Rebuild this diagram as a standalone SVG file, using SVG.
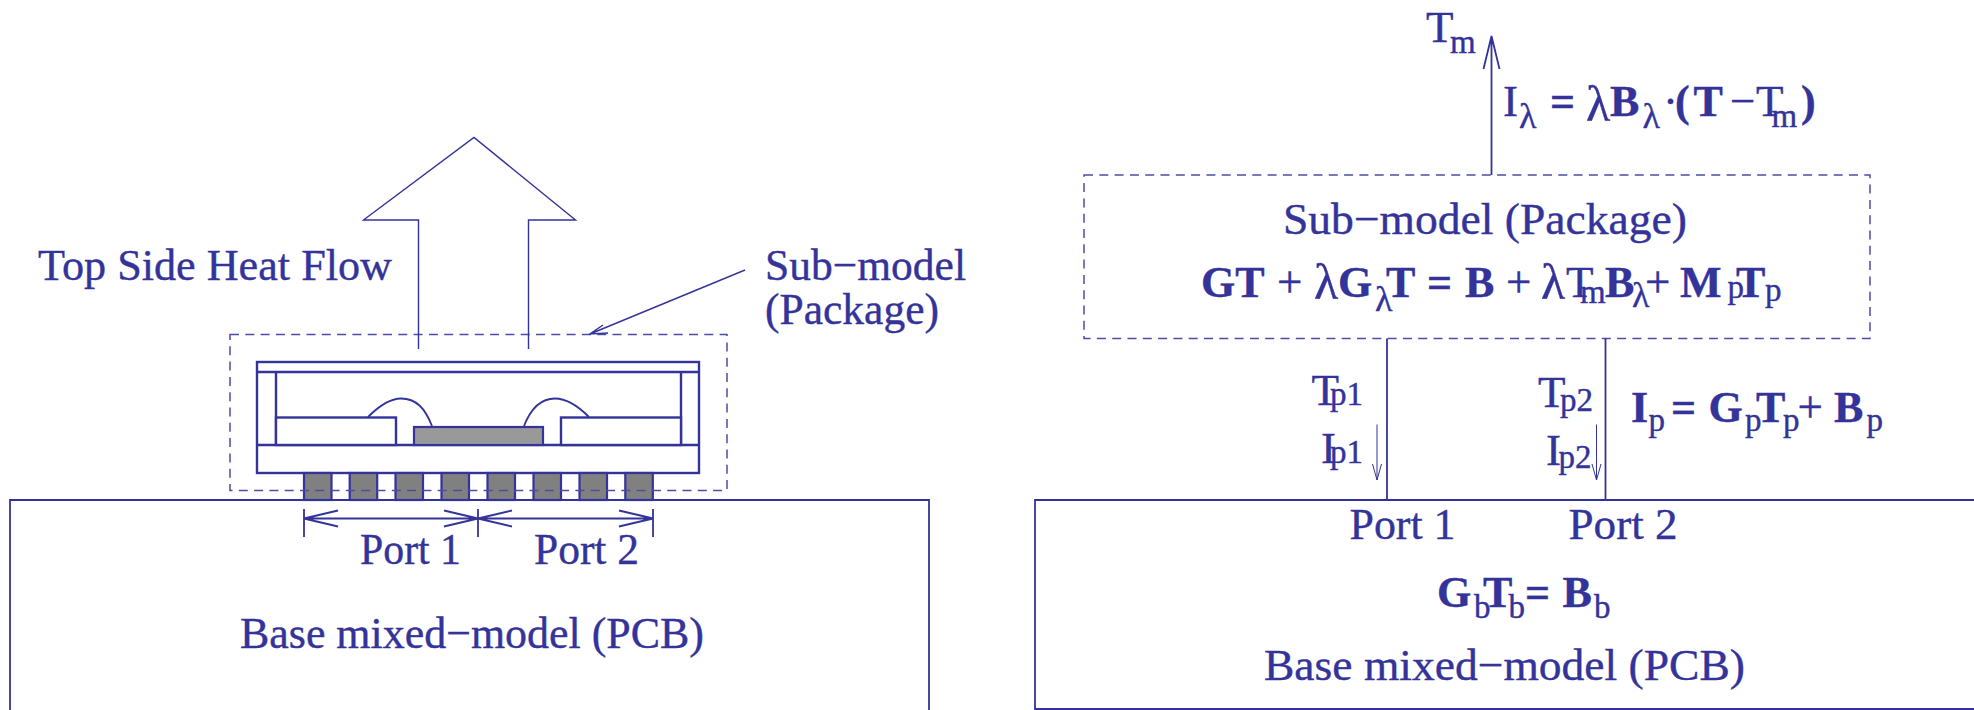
<svg xmlns="http://www.w3.org/2000/svg" width="1974" height="710" viewBox="0 0 1974 710">
<style>
text{font-family:"Liberation Serif","Times New Roman",serif;font-size:45px;fill:#33339a;stroke:#33339a;stroke-width:.4}
.b{font-weight:bold;font-size:44px}
.s{font-size:33px}
.l{font-size:50px}
.sl{font-size:36px}
.ln{fill:none;stroke:#33339a;stroke-width:1.8}
.thin{fill:none;stroke:#33339a;stroke-width:1.4}
.hair{fill:none;stroke:#33339a;stroke-width:1}
.th{fill:#fff;stroke:#33339a;stroke-width:2.4}
.d{fill:none;stroke:#4c4ca6;stroke-width:1.5;stroke-dasharray:9 6.300}
.pin{fill:#808080;stroke:#33339a;stroke-width:2.2}
.chip{fill:#999;stroke:#33339a;stroke-width:2.2}
</style>
<defs>
<g id="pin"><rect class="pin" x="0" y="473" width="27.5" height="27"/></g>
</defs>
<rect width="1974" height="710" fill="#fff"/>

<g id="left-base">
<path class="ln" d="M10 710V500H929V710"/>
<text x="240" y="648" textLength="464" lengthAdjust="spacingAndGlyphs">Base mixed−model (PCB)</text>
</g>

<g id="left-package">
<rect class="th" x="257" y="362" width="442" height="111"/>
<path class="th" d="M257 372H699M257 445H699M276 372V445M681 372V445"/>
<rect class="th" x="276" y="417.5" width="120" height="27.5"/>
<rect class="th" x="561" y="417.5" width="120" height="27.5"/>
<rect class="chip" x="414" y="427" width="129" height="18"/>
<path class="ln" d="M368 417C382 403 393 398.500 401 398.500C416 398.500 425 408 432 426"/>
<path class="ln" d="M524 426C531 408 542 398.500 555 398.500C564 398.500 575 403 589 417"/>
<use href="#pin" x="304"/><use href="#pin" x="349.700"/><use href="#pin" x="395.500"/><use href="#pin" x="441.500"/>
<use href="#pin" x="487.500"/><use href="#pin" x="533.500"/><use href="#pin" x="579.500"/><use href="#pin" x="625.300"/>
</g>

<g id="left-submodel-box">
<rect class="d" x="230" y="334.500" width="497" height="156"/>
</g>

<g id="left-labels">
<text x="38" y="280" textLength="354" lengthAdjust="spacingAndGlyphs">Top Side Heat Flow</text>
<text x="765" y="280" textLength="201" lengthAdjust="spacingAndGlyphs">Sub−model</text>
<text x="765" y="324" textLength="174" lengthAdjust="spacingAndGlyphs">(Package)</text>
<text x="360" y="564" textLength="101" lengthAdjust="spacingAndGlyphs">Port 1</text>
<text x="534" y="564" textLength="105" lengthAdjust="spacingAndGlyphs">Port 2</text>
</g>

<g id="right-base">
<path class="ln" d="M1035 710V500H1974M1035 709H1974"/>
<text x="1349.500" y="539" textLength="106" lengthAdjust="spacingAndGlyphs">Port 1</text>
<text x="1568.500" y="539" textLength="109" lengthAdjust="spacingAndGlyphs">Port 2</text>
<text x="1264" y="680" textLength="481" lengthAdjust="spacingAndGlyphs">Base mixed−model (PCB)</text>
<text><tspan class="b" x="1437" y="606.500">G</tspan><tspan class="s" x="1474" y="617.500">b</tspan><tspan class="b" x="1483" y="606.500">T</tspan><tspan class="s" x="1508.500" y="617.500">b</tspan><tspan x="1525" y="606.500" class="b">=</tspan><tspan class="b" x="1562.500" y="606.500">B</tspan><tspan class="s" x="1594" y="617.500">b</tspan></text>
</g>

<g id="right-submodel">
<path class="d" d="M1084 175H1870V338.500H1084Z"/>
<text x="1283" y="234" textLength="404" lengthAdjust="spacingAndGlyphs">Sub−model (Package)</text>
<text><tspan class="b" x="1201" y="296.500">GT</tspan><tspan x="1277" y="296.500">+</tspan><tspan class="l" x="1314" y="299">λ</tspan><tspan class="b" x="1338" y="296.500">G</tspan><tspan class="sl" x="1375" y="310.500">λ</tspan><tspan class="b" x="1386" y="296.500">T</tspan><tspan class="b" x="1427" y="296.500">=</tspan><tspan class="b" x="1465" y="296.500">B</tspan><tspan x="1506" y="296.500">+</tspan><tspan class="l" x="1541" y="299">λ</tspan><tspan x="1566" y="296.500">T</tspan><tspan class="s" x="1580" y="302.500">m</tspan><tspan class="b" x="1605" y="296.500">B</tspan><tspan class="sl" x="1632" y="306.500">λ</tspan><tspan x="1645" y="296.500">+</tspan><tspan class="b" x="1680" y="296.500">M</tspan><tspan class="s" x="1727.500" y="298">p</tspan><tspan class="b" x="1736" y="296.500">T</tspan><tspan class="s" x="1765" y="301">p</tspan></text>
</g>

<g id="right-top-labels">
<text><tspan x="1426" y="41.500">T</tspan><tspan class="s" x="1450" y="52.500">m</tspan></text>
<text><tspan x="1503" y="116">I</tspan><tspan class="sl" x="1519" y="128">λ</tspan><tspan class="b" x="1550" y="116">=</tspan><tspan class="l" x="1586" y="120.500">λ</tspan><tspan class="b" x="1610" y="116">B</tspan><tspan class="sl" x="1642.500" y="128">λ</tspan><tspan x="1663" y="116">·</tspan><tspan class="b" x="1675" y="116">(</tspan><tspan class="b" x="1693.500" y="116">T</tspan><tspan x="1730" y="116">−</tspan><tspan x="1756" y="116">T</tspan><tspan class="s" x="1771.500" y="126.500">m</tspan><tspan class="b" x="1801" y="116">)</tspan></text>
</g>

<g id="right-port-labels">
<text><tspan x="1311.500" y="405">T</tspan><tspan class="s" x="1330" y="405">p1</tspan></text>
<text><tspan x="1321" y="462.500">I</tspan><tspan class="s" x="1330" y="462.500">p1</tspan></text>
<text><tspan x="1538" y="406.500">T</tspan><tspan class="s" x="1560" y="410.500">p2</tspan></text>
<text><tspan x="1546" y="464.500">I</tspan><tspan class="s" x="1558.500" y="467.500">p2</tspan></text>
<text><tspan class="b" x="1631" y="421.500">I</tspan><tspan class="s" x="1648.500" y="431">p</tspan><tspan class="b" x="1671" y="421.500">=</tspan><tspan class="b" x="1708.500" y="421.500">G</tspan><tspan class="s" x="1745" y="431">p</tspan><tspan class="b" x="1756" y="421.500">T</tspan><tspan class="s" x="1783" y="431">p</tspan><tspan x="1797.500" y="421.500">+</tspan><tspan class="b" x="1834" y="421.500">B</tspan><tspan class="s" x="1866.500" y="431">p</tspan></text>
</g>

<g id="connectors">
<path class="thin" d="M418.500 349V220H363.500L474 137.500L575.500 220H528.500V349"/>
<path class="thin" d="M745 270L590 334M603 325L590 334L608 333"/>
<path class="ln" d="M304 509V537M478 509V537M653 509V537"/>
<path class="ln" d="M304 518.500H478M338 510.500L304 518.500L338 526.500M444 510.500L478 518.500L444 526.500"/>
<path class="ln" d="M478 518.500H653M512 510.500L478 518.500L512 526.500M619 510.500L653 518.500L619 526.500"/>
<path class="ln" d="M1491.500 175V36M1483.500 69L1491.500 36L1499.500 69"/>
<path class="ln" d="M1387 338.500V500M1605.500 338.500V500"/>
<path class="hair" d="M1377 424.500V480M1372.500 464L1377 480L1381.500 464"/>
<path class="hair" d="M1596.500 424.500V480M1592 464L1596.500 480L1601 464"/>
</g>
</svg>
